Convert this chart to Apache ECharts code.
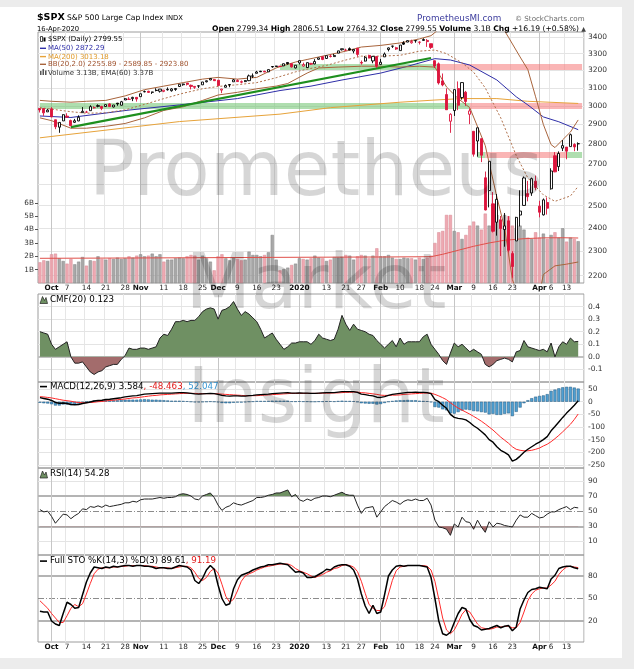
<!DOCTYPE html>
<html><head><meta charset="utf-8">
<script src="https://cdn.jsdelivr.net/npm/echarts@6/dist/echarts.min.js"></script>
<style>html,body{margin:0;padding:0;background:#ececec;}#chart{width:634px;height:669px;}</style>
</head><body><div id="chart"></div>
<script>
// ---------------- DATA ----------------
const monthDays = [
 ['2019-09',[26,27,30]],
 ['2019-10',[1,2,3,4,7,8,9,10,11,14,15,16,17,18,21,22,23,24,25,28,29,30,31]],
 ['2019-11',[1,4,5,6,7,8,11,12,13,14,15,18,19,20,21,22,25,26,27,29]],
 ['2019-12',[2,3,4,5,6,9,10,11,12,13,16,17,18,19,20,23,24,26,27,30,31]],
 ['2020-01',[2,3,6,7,8,9,10,13,14,15,16,17,21,22,23,24,27,28,29,30,31]],
 ['2020-02',[3,4,5,6,7,10,11,12,13,14,18,19,20,21,24,25,26,27,28]],
 ['2020-03',[2,3,4,5,6,9,10,11,12,13,16,17,18,19,20,23,24,25,26,27,30,31]],
 ['2020-04',[1,2,3,6,7,8,9,13,14,15,16]]
];
const tickDates = ['2019-10-01','2019-10-07','2019-10-14','2019-10-21','2019-10-28','2019-11-01','2019-11-11','2019-11-18','2019-11-25','2019-12-02','2019-12-09','2019-12-16','2019-12-23','2020-01-02','2020-01-13','2020-01-21','2020-01-27','2020-02-03','2020-02-10','2020-02-18','2020-02-24','2020-03-02','2020-03-09','2020-03-16','2020-03-23','2020-04-01','2020-04-06','2020-04-13'];
const tickTexts = ['Oct','7','14','21','28','Nov','11','18','25','Dec','9','16','23','2020','13','21','27','Feb','10','18','24','Mar','9','16','23','Apr','6','13'];
const monthTickTexts = ['Oct','Nov','Dec','2020','Feb','Mar','Apr'];

const prevClose0 = 2984.87;
const open = [
2985.73,2985.47,2967.07,2983.69,2924.78,2885.38,2918.56,2944.23,2920.40,2911.10,
2918.55,2963.07,2965.81,2973.61,2989.68,3000.77,2996.84,2996.48,3010.73,2994.01,
3014.78,3003.32,3032.12,3035.39,3039.74,3046.90,3050.72,3078.96,3080.80,3075.10,
3087.02,3081.25,3080.33,3089.28,3084.18,3090.75,3107.92,3117.91,3127.45,3114.66,
3108.49,3111.41,3117.44,3134.85,3145.49,3147.18,3143.85,3087.41,3103.50,3119.21,
3134.62,3141.86,3135.36,3135.75,3141.23,3166.65,3183.63,3195.40,3195.21,3192.32,
3223.33,3226.05,3225.45,3227.20,3247.23,3240.09,3215.18,3244.67,3226.36,3217.55,
3241.86,3238.59,3266.03,3281.81,3271.13,3285.35,3282.27,3302.97,3323.66,3321.03,
3330.02,3315.77,3333.10,3247.16,3255.35,3289.46,3256.45,3282.33,3235.66,3280.61,
3324.91,3344.92,3335.54,3318.28,3365.87,3370.50,3365.90,3378.08,3369.04,3380.39,
3380.45,3360.50,3257.61,3238.94,3139.90,3062.54,2916.90,2974.28,3096.46,3045.75,
3075.70,2954.20,2863.89,2813.48,2825.60,2630.86,2569.99,2508.59,2425.66,2436.50,
2393.48,2431.94,2290.71,2344.44,2457.77,2501.29,2555.87,2558.98,2614.69,2498.08,
2458.54,2514.92,2578.28,2738.65,2685.00,2776.99,2782.46,2784.81,2795.64,2799.34];
const high = [
2987.28,2987.31,2983.85,2992.53,2924.78,2911.13,2953.74,2959.75,2925.47,2929.32,
2948.46,2993.28,2972.84,3003.28,2997.54,3008.29,3000.00,3007.33,3014.57,3004.78,
3016.07,3027.39,3044.08,3047.87,3050.10,3046.90,3066.95,3085.20,3083.95,3078.34,
3097.77,3093.09,3088.33,3102.61,3098.06,3098.20,3120.46,3124.17,3127.64,3118.97,
3110.11,3112.87,3133.83,3142.69,3154.26,3150.30,3144.31,3094.97,3119.38,3119.45,
3150.60,3148.87,3142.12,3143.98,3176.28,3182.68,3197.71,3198.22,3198.48,3205.48,
3225.65,3227.78,3226.43,3240.08,3247.93,3240.92,3231.72,3258.14,3246.15,3246.84,
3244.91,3267.07,3275.58,3282.99,3288.13,3294.25,3298.66,3317.11,3329.88,3329.79,
3337.77,3326.88,3333.18,3258.85,3285.78,3293.47,3285.91,3282.33,3268.44,3306.92,
3337.58,3347.96,3341.42,3352.26,3375.63,3381.47,3385.09,3380.69,3375.01,3393.52,
3389.15,3360.76,3259.81,3246.99,3182.51,3097.07,2959.72,3090.96,3136.72,3130.97,
3083.04,2985.93,2863.89,2882.59,2825.60,2660.95,2711.33,2562.98,2553.93,2453.57,
2466.97,2453.01,2300.73,2449.71,2571.42,2637.01,2615.91,2631.80,2641.39,2522.75,
2533.22,2538.18,2676.85,2756.89,2760.75,2818.57,2782.46,2851.85,2801.88,2806.51];
const low = [
2963.71,2945.53,2967.07,2938.70,2874.93,2855.94,2918.56,2935.68,2892.66,2907.41,
2917.12,2963.07,2962.94,2973.61,2985.20,2991.79,2976.31,2995.35,2995.04,2991.21,
3000.42,3001.94,3032.12,3034.81,3025.96,3023.19,3050.72,3074.87,3072.15,3065.89,
3080.23,3073.58,3075.82,3084.73,3078.80,3083.26,3104.60,3112.06,3113.47,3091.41,
3094.55,3099.26,3117.44,3131.00,3143.41,3139.34,3110.78,3070.33,3102.53,3103.76,
3134.62,3135.46,3126.09,3133.21,3138.47,3156.51,3183.63,3191.03,3191.14,3192.32,
3216.03,3222.30,3220.51,3227.20,3234.37,3216.57,3212.03,3235.53,3222.34,3214.64,
3232.43,3236.67,3263.67,3260.86,3268.43,3277.19,3280.69,3302.82,3318.86,3316.61,
3320.04,3301.87,3281.53,3234.50,3253.22,3271.89,3242.80,3214.68,3235.66,3280.61,
3313.75,3334.39,3322.12,3317.77,3352.72,3369.72,3360.52,3366.15,3355.61,3378.83,
3341.02,3328.45,3214.65,3118.77,3108.99,2977.39,2855.84,2945.19,2976.63,3034.38,
2999.83,2901.54,2734.43,2734.00,2707.22,2478.86,2492.37,2380.94,2367.04,2280.52,
2319.78,2295.56,2191.86,2344.44,2407.53,2500.72,2520.02,2545.28,2571.15,2447.49,
2455.79,2459.96,2574.57,2657.67,2663.30,2762.36,2721.17,2784.81,2761.54,2764.32];
const close = [
2977.62,2961.79,2976.74,2940.25,2887.61,2910.63,2952.01,2938.79,2893.06,2919.40,
2938.13,2970.27,2966.15,2995.68,2989.69,2997.95,2986.20,3006.72,2995.99,3004.52,
3010.29,3022.55,3039.42,3036.89,3046.77,3037.56,3066.91,3078.27,3074.62,3076.78,
3085.18,3093.08,3087.01,3091.84,3094.04,3096.63,3120.46,3122.03,3120.18,3108.46,
3103.54,3110.29,3133.64,3140.52,3153.63,3140.98,3113.87,3093.20,3112.76,3117.43,
3145.91,3135.96,3132.52,3141.63,3168.57,3168.80,3191.45,3192.52,3191.14,3205.37,
3221.22,3224.01,3223.38,3239.91,3240.02,3221.29,3230.78,3257.85,3234.85,3246.28,
3237.18,3253.05,3274.70,3265.35,3288.13,3283.15,3289.29,3316.81,3329.62,3320.79,
3321.75,3325.54,3295.47,3243.63,3276.24,3273.40,3283.66,3225.52,3248.92,3297.59,
3334.69,3345.78,3327.71,3352.09,3357.75,3379.45,3373.94,3380.16,3370.29,3386.15,
3373.23,3337.75,3225.89,3128.21,3116.39,2978.76,2954.22,3090.23,3003.37,3130.12,
3023.94,2972.37,2746.56,2882.23,2741.38,2480.64,2711.02,2386.13,2529.19,2398.10,
2409.39,2304.92,2237.40,2447.33,2475.56,2630.07,2541.47,2626.65,2584.59,2470.50,
2526.90,2488.65,2663.68,2659.41,2749.98,2789.82,2761.63,2846.06,2783.36,2799.55];
const volumeB = [
1.55,1.70,1.65,2.15,2.20,1.85,1.65,1.45,1.80,1.40,
1.60,1.95,1.30,1.70,1.65,2.00,1.80,1.75,1.85,1.80,
1.90,1.80,1.85,2.00,1.90,2.05,2.15,2.00,2.05,2.20,
2.00,2.15,1.60,1.75,1.75,1.85,1.90,1.85,2.00,2.10,
2.05,1.75,2.05,1.85,1.60,0.95,2.00,2.15,1.85,1.70,
1.90,1.80,1.70,1.75,2.35,2.10,2.10,2.00,2.10,2.30,
3.60,1.75,0.95,1.05,1.15,1.35,1.45,1.85,1.80,1.75,
1.85,2.05,1.90,1.85,1.65,1.75,1.95,1.90,1.95,2.10,
2.05,1.75,2.00,2.10,2.05,1.85,2.05,2.60,2.00,2.00,
2.10,1.90,1.80,1.80,1.90,1.85,1.85,1.75,1.90,1.80,
1.90,2.05,3.00,3.80,3.90,5.10,5.10,3.90,3.80,3.30,
3.60,4.30,4.60,4.30,4.00,5.20,4.30,4.50,5.10,4.50,
5.10,5.00,4.30,4.10,4.30,4.00,3.40,3.30,3.80,3.40,
3.70,3.30,3.60,3.80,3.40,4.10,3.10,3.40,3.30,3.13];
const cmf = [
0.20,0.19,0.18,0.10,0.06,0.08,0.10,0.12,0.00,-0.05,
-0.05,-0.04,-0.08,-0.12,-0.14,-0.12,-0.11,-0.08,-0.07,-0.06,
-0.06,-0.02,0.01,0.07,0.06,0.06,0.07,0.07,0.06,0.07,
0.08,0.15,0.18,0.17,0.22,0.28,0.28,0.29,0.28,0.29,
0.29,0.32,0.36,0.38,0.39,0.38,0.30,0.37,0.38,0.40,
0.44,0.38,0.33,0.36,0.34,0.31,0.28,0.22,0.15,0.17,
0.19,0.14,0.10,0.06,0.08,0.11,0.11,0.12,0.12,0.12,
0.10,0.13,0.18,0.15,0.14,0.13,0.14,0.22,0.33,0.26,
0.21,0.26,0.22,0.21,0.20,0.18,0.17,0.13,0.10,0.07,
0.10,0.13,0.08,0.15,0.10,0.12,0.12,0.12,0.12,0.16,
0.18,0.10,0.06,0.02,-0.03,-0.06,0.03,0.11,0.08,0.10,
0.07,0.04,0.06,0.04,0.02,-0.06,-0.08,-0.06,-0.03,-0.02,
-0.01,-0.02,-0.04,0.04,0.05,0.13,0.08,0.07,0.06,0.05,
0.06,0.04,0.11,0.00,0.08,0.12,0.10,0.15,0.12,0.123];
const macdLine = [
16,13,10,5,-3,-6,-5,-7,-11,-12,
-11,-7,-4,-1,3,5,6,9,10,12,
14,16,19,21,23,24,27,30,31,32,
33,34,34,34,34,35,36,36,35,33,
31,30,31,32,33,32,29,25,23,22,
23,23,22,22,24,25,27,28,29,30,
32,33,34,35,36,34,34,35,34,34,
33,33,34,35,36,36,36,38,40,40,
40,40,37,30,28,25,23,18,17,20,
25,29,31,33,35,37,37,38,37,37,
36,32,8,0,-14,-26,-50,-62,-66,-68,
-72,-82,-95,-105,-118,-131,-150,-160,-178,-192,
-200,-210,-235,-228,-215,-200,-188,-178,-168,-160,
-150,-138,-115,-98,-80,-62,-45,-30,-14,3.584];
const macdSignal = [
20,19,17,15,12,9,6,4,2,-1,
-3,-4,-4,-3,-2,0,1,3,5,6,
8,9,11,13,15,16,18,20,22,24,
25,27,28,29,30,31,32,33,33,33,
33,32,32,32,32,32,31,30,29,28,
27,26,25,24,24,24,24,25,26,27,
28,29,30,31,32,33,33,33,33,33,
33,33,33,34,34,34,35,35,36,37,
37,38,38,36,35,33,31,29,26,25,
25,26,26,27,29,30,31,32,33,34,
34,34,29,23,16,8,-4,-15,-25,-33,
-41,-49,-58,-67,-77,-88,-100,-112,-126,-140,
-152,-164,-178,-188,-192,-194,-194,-192,-188,-183,
-175,-168,-158,-146,-133,-119,-104,-89,-70,-48.463];
const macdHist = [
-4,-6,-7,-10,-15,-15,-11,-11,-13,-11,
-8,-3,0,2,5,5,5,6,5,6,
6,7,8,8,8,8,9,10,9,8,
8,7,6,5,4,4,4,3,2,0,
-2,-2,-1,0,1,0,-2,-5,-6,-6,
-4,-3,-3,-2,0,1,3,3,3,3,
4,4,4,4,4,1,1,2,1,1,
0,0,1,1,2,2,1,3,4,3,
3,2,-1,-6,-7,-8,-8,-11,-9,-5,
0,3,5,6,6,7,6,6,4,3,
2,-2,-21,-23,-30,-34,-46,-47,-41,-35,
-31,-33,-37,-38,-41,-43,-50,-48,-52,-52,
-48,-46,-57,-40,-23,-6,6,14,20,23,
25,30,43,48,53,57,59,59,56,52.047];
const rsi = [
52,49,50,43,34,40,46,45,40,44,
47,53,52,56,55,57,55,58,56,57,
58,59,61,61,63,62,65,66,66,66,
67,68,67,68,68,69,72,73,72,70,
66,65,70,72,74,68,58,51,55,57,
61,59,58,60,62,64,68,68,69,71,
72,74,74,76,78,69,72,65,63,66,
64,67,68,70,70,69,71,73,75,72,
71,71,58,47,54,55,56,42,49,56,
60,64,62,59,63,65,64,66,64,64,
67,58,38,29,28,26,18,33,29,42,
36,35,26,38,29,22,36,29,34,33,
31,30,29,38,45,42,42,47,44,41,
42,46,49,49,52,54,56,52,55,54.28];
const stoK = [
33,32,32,20,16,14,30,45,42,37,
38,55,72,84,92,91,90,92,91,93,
92,93,94,94,93,94,94,93,93,92,
90,91,91,90,90,92,94,93,92,88,
74,70,77,88,94,89,68,50,41,43,
63,75,81,83,85,88,90,92,93,95,
95,96,97,96,95,90,85,86,84,78,
78,79,82,85,89,88,92,94,95,95,
93,88,76,56,40,30,41,30,32,55,
80,88,93,94,93,94,94,94,94,93,
92,78,50,20,3,1,5,18,30,38,
36,22,14,12,8,9,10,12,14,11,
13,14,7,12,36,48,58,62,63,65,
64,63,76,81,90,92,93,93,91,89.61];
const stoD = [
47,42,37,30,24,18,18,27,37,42,
39,43,56,70,83,89,91,91,91,92,
92,93,93,94,94,94,94,94,93,93,
92,91,91,91,90,91,92,93,93,91,
85,77,74,78,86,90,84,69,53,45,
49,60,73,80,83,85,88,90,92,93,
94,95,96,96,96,94,90,87,85,83,
80,78,80,82,85,87,90,91,94,95,
94,92,86,73,57,42,37,34,34,39,
56,74,87,92,93,94,94,94,94,94,
93,88,73,49,24,8,3,8,18,29,
35,32,24,16,11,10,9,10,12,12,
13,13,11,11,18,32,47,56,61,63,
64,64,68,73,82,88,92,93,92,91.19];

// smooth overlay lines, read at sample days: [dayIndex, value]
const ma50Pts = [[0,2945],[8,2937],[23,2977],[36,3005],[51,3040],[62,3085],[70,3110],[78,3145],[88,3185],[95,3225],[102,3270],[106,3262],[111,3232],[118,3145],[123,3050],[126,3005],[130,2940],[134,2914],[139,2872.29]];
const ma200Pts = [[0,2830],[36,2915],[62,2955],[75,2990],[93,3020],[102,3032],[109,3040],[118,3040],[126,3025],[139,3013.18]];
const bbUpPts = [[0,3030],[3,3025],[8,3020],[12,3025],[17,3030],[22,3055],[27,3090],[32,3110],[37,3130],[42,3150],[46,3160],[51,3150],[56,3160],[61,3215],[66,3250],[69,3265],[74,3290],[79,3315],[83,3340],[88,3350],[93,3365],[98,3390],[101,3410],[103,3450],[106,3520],[112,3560],[117,3520],[120,3440],[121,3400],[124,3280],[126,3205],[128,3050],[130,2900],[132,2795],[133,2780],[135,2820],[137,2860],[139,2923.80]];
const bbMidPts = [[0,2990],[3,2982],[8,2968],[12,2960],[17,2962],[22,2978],[27,3008],[32,3040],[37,3070],[42,3095],[46,3108],[51,3118],[56,3130],[61,3158],[66,3192],[69,3208],[74,3230],[79,3262],[83,3285],[88,3285],[93,3290],[98,3315],[102,3322],[105,3300],[109,3245],[112,3190],[115,3100],[119,2935],[123,2740],[126,2630],[130,2550],[133,2520],[137,2545],[139,2589.85]];
const bbLowPts = [[0,2935],[3,2920],[8,2880],[12,2880],[17,2890],[22,2905],[27,2935],[32,2975],[37,2995],[42,3030],[46,3060],[51,3075],[56,3095],[61,3110],[64,3125],[69,3185],[72,3215],[77,3220],[83,3225],[88,3225],[93,3220],[98,3225],[102,3220],[105,3105],[108,3040],[111,2990],[115,2790],[118,2540],[120,2400],[122,2185],[124,2100],[127,2080],[129,2130],[130,2205],[133,2240],[136,2247],[139,2255.89]];
const volEmaPts = [[0,1.85],[30,1.88],[60,1.92],[90,1.95],[101,1.97],[104,2.15],[108,2.45],[112,2.75],[116,3.0],[120,3.2],[125,3.32],[130,3.38],[135,3.39],[139,3.37]];

// drawn support/resistance bands
const bandLevels = [3000,3000,3220,3220,2745,2745,2745];
const bandFrom   = [0,111,62,103,113,115,136];
const bandTo     = [111,140,103,140,115,136,140];
const bandKind   = ['g','r','g','r','g','r','g'];
// trend line: [dayIndex, price]
const trendPts = [[8,2886],[101,3274]];

// axis tick values
const priceTicks = [3400,3300,3200,3100,3000,2900,2800,2700,2600,2500,2400,2300,2200];
const volTicks = [1,2,3,4,5,6];
const cmfTicks = [0.4,0.3,0.2,0.1,0,-0.1];
const cmfTickTexts = ['0.4','0.3','0.2','0.1','0.0','-0.1'];
const macdTicks = [50,0,-50,-100,-150,-200,-250];
const rsiTicks = [90,70,50,30,10];
const stoTicks = [80,50,20];

// ---------------- BUILD ----------------
const FONT = '"DejaVu Sans", Verdana, sans-serif';
const dates = [];
monthDays.forEach(([ym, days]) => days.forEach(d => dates.push(ym + '-' + String(d).padStart(2,'0'))));
const cats = dates.concat(['']);
const tickSet = new Set(tickDates);
const monthSet = new Set(tickDates.filter((d,k) => monthTickTexts.includes(tickTexts[k])));
const monthIdx = tickDates.filter(d => monthSet.has(d)).map(d => dates.indexOf(d));

const RED = '#dc143c', BLACK = '#000000';
const POS = '#6f9063', NEG = '#a36c6c';

const panels = [{top:32,height:251},{top:294,height:88},{top:382,height:86},{top:468,height:87},{top:555,height:87}];
const grids = panels.map(p => ({left:38, width:546, top:p.top, height:p.height, show:true, borderColor:'#9c9c9c', borderWidth:1, outerBoundsMode:'none'}));

const xAxes = panels.map((p,i) => ({
  type:'category', gridIndex:i, data:cats, boundaryGap:true,
  axisLine:{show:false}, axisTick:{show:false},
  axisLabel:{show: i===0 || i===4, interval:(idx,val)=>tickSet.has(val), margin:2, hideOverlap:false,
    fontSize:7.3, fontFamily:FONT, color:'#222',
    formatter:(val)=>{const k=tickDates.indexOf(val); if(k<0) return ''; const t=tickTexts[k]; return monthSet.has(val)?'{b|'+t+'}':t;},
    rich:{b:{fontWeight:'bold', fontSize:7.3, fontFamily:FONT, color:'#111'}}},
  splitLine:{show:true, interval:(idx,val)=>tickSet.has(val) && !monthSet.has(val), lineStyle:{color:'#e6e6e6', width:1}}
}));
const hiddenY = (gi, min, max) => ({type:'value', gridIndex:gi, min, max, axisLine:{show:false}, axisTick:{show:false}, axisLabel:{show:false}, splitLine:{show:false}});
const yAxes = [
  {type:'log', logBase:10, gridIndex:0, min:2171, max:3433, position:'right', axisLine:{show:false}, axisTick:{show:false}, axisLabel:{show:false}, splitLine:{show:false}, minorTick:{show:false}, minorSplitLine:{show:false}},
  {type:'value', gridIndex:0, min:0, max:18.8, interval:1, position:'left', axisLine:{show:false},
   axisTick:{show:true, length:3, customValues:volTicks, lineStyle:{color:'#555'}},
   axisLabel:{customValues:volTicks, margin:4, fontSize:7.3, fontFamily:FONT, color:'#333', formatter:v=>(v>=1&&v<=6)?v+'B':''},
   splitLine:{show:false}},
  hiddenY(1,-0.2,0.5),
  hiddenY(2,-262,78),
  hiddenY(3,-8,107),
  hiddenY(4,-8,108)
];

const S = [];
const add = s => { S.push(s); return S.length - 1; };
const LIGHT = {color:'#e4e4e4', width:1, type:'solid'};
const THICK = {color:'#b4b4b4', width:2, type:'solid'};
const DASHDOT = {color:'#8c8c8c', width:1, type:[6,2,1,2]};
function gridHost(xi, yi, ticks, texts, styleFor){
  const data = ticks.map((v,k)=>({yAxis:v, lineStyle:styleFor?styleFor(v):LIGHT, label:{show:true, formatter:texts[k]}}));
  monthIdx.forEach(i => data.push({xAxis:i, lineStyle:{color:'#c6c6c6', width:1, type:'solid'}, label:{show:false}}));
  return {type:'line', xAxisIndex:xi, yAxisIndex:yi, data:[], silent:true, clip:false, z:0,
    markLine:{silent:true, symbol:['none','none'], animation:false, z:0, precision:2,
      label:{position:'end', distance:4, color:'#333', fontSize:7.5, fontFamily:FONT},
      emphasis:{disabled:true}, data}};
}
const lineS = (xi, yi, data, color, width, z, extra) => Object.assign({type:'line', xAxisIndex:xi, yAxisIndex:yi, data, showSymbol:false, symbol:'none', silent:true, z, lineStyle:{color, width}}, extra||{});

// --- price panel ---
add(gridHost(0,0,priceTicks,priceTicks.map(String)));
add({type:'bar', xAxisIndex:0, yAxisIndex:1, barWidth:'82%', silent:true, z:1,
  data: volumeB.map((v,i)=>{const prev=i?close[i-1]:prevClose0; const dn=close[i]<prev;
    return {value:v, itemStyle:{color: dn?'rgba(236,160,170,0.9)':'rgba(158,158,158,0.9)', borderColor: dn?'#d88a95':'#858585', borderWidth:0.5}};})});
add({type:'line', xAxisIndex:0, yAxisIndex:0, data:[], silent:true, clip:false, z:2,
  markLine:{silent:true, symbol:['none','none'], animation:false, z:2, label:{show:false}, emphasis:{disabled:true},
    data: bandLevels.map((v,k)=>[{coord:[bandFrom[k], v], lineStyle:{width:6, type:'solid', color: bandKind[k]==='g'?'rgba(110,195,110,0.55)':'rgba(245,120,120,0.55)'}}, {coord:[bandTo[k], v]}])}});
add(lineS(0,0,ma200Pts,'#e7a33a',1,3));
add(lineS(0,0,ma50Pts,'#2e2ea8',1,3));
add(lineS(0,0,bbUpPts,'#a8643c',1,3));
add(Object.assign(lineS(0,0,bbMidPts,'#b0704a',1,3),{lineStyle:{color:'#b0704a', width:1, type:[2,2]}}));
add(lineS(0,0,bbLowPts,'#a8643c',1,3));
add(lineS(0,1,volEmaPts,'#e0504a',1,3));
add({type:'line', xAxisIndex:0, yAxisIndex:0, data:[], silent:true, z:4,
  markLine:{silent:true, symbol:['none','none'], animation:false, z:4, label:{show:false}, emphasis:{disabled:true},
    data:[[{coord:trendPts[0], lineStyle:{color:'#1e8f1e', width:2.2, type:'solid'}}, {coord:trendPts[1]}]]}});
add({type:'candlestick', xAxisIndex:0, yAxisIndex:0, barWidth:2.6, silent:true, z:5,
  data: close.map((c,i)=>{const o=open[i]; const prev=i?close[i-1]:prevClose0; const col=c<prev?RED:BLACK; const fill=c>=o?'#ffffff':col;
    return {value:[o,c,low[i],high[i]], itemStyle:{color:fill, color0:fill, borderColor:col, borderColor0:col, borderWidth:0.9}};})});

// --- CMF ---
add(gridHost(1,2,cmfTicks,cmfTickTexts,v=>v===0?{color:'#c0c0c0',width:2,type:'solid'}:LIGHT));
const iCmfArea = add(lineS(1,2,cmf,POS,0,2,{areaStyle:{origin:0, opacity:1}}));
add(lineS(1,2,cmf,'#222',1,3));

// --- MACD ---
add(gridHost(2,3,macdTicks,macdTicks.map(String)));
add({type:'bar', xAxisIndex:2, yAxisIndex:3, data:macdHist, barWidth:'80%', silent:true, z:2, itemStyle:{color:'#4f9fd1', borderColor:'#245a80', borderWidth:0.5}});
add(lineS(2,3,macdSignal,'#ff2a2a',1,3));
add(lineS(2,3,macdLine,'#000',1.4,4));

// --- RSI ---
add(gridHost(3,4,rsiTicks,rsiTicks.map(String),v=>(v===70||v===30)?THICK:(v===50?DASHDOT:LIGHT)));
const iRsiHi = add(lineS(3,4,rsi,POS,0,2,{areaStyle:{origin:70, opacity:1}}));
const iRsiLo = add(lineS(3,4,rsi,NEG,0,2,{areaStyle:{origin:30, opacity:1}}));
add(lineS(3,4,rsi,'#222',1,3));

// --- Full STO ---
add(gridHost(4,5,stoTicks,stoTicks.map(String),v=>v===50?DASHDOT:THICK));
add(lineS(4,5,stoD,'#ff2a2a',1,3));
add(lineS(4,5,stoK,'#000',1.5,4));

// ---------------- TEXT ----------------
const T = (x,y,text,size,extra) => ({type:'text', x, y, z:50, silent:true, style:Object.assign({text, fontSize:size, fontFamily:FONT, fill:'#000', verticalAlign:'middle', textVerticalAlign:'middle', align:'left', textAlign:'left'}, extra||{})});
const R = (x,y,w,h,fill) => ({type:'rect', z:50, silent:true, shape:{x,y,width:w,height:h}, style:{fill}});
const rich = (size) => ({
  b:{fontWeight:'bold', fontSize:size, fontFamily:FONT, fill:'#000'},
  v:{fontSize:size, fontFamily:FONT, fill:'#000'},
  k:{fontSize:size, fontFamily:FONT, fill:'#000'},
  r:{fontSize:size, fontFamily:FONT, fill:'#e21b1b'},
  u:{fontSize:size, fontFamily:FONT, fill:'#3a98d4'},
  t:{fontSize:size*0.8, fontFamily:FONT, fill:'#444'}
});
const mark = (x,y) => ({type:'polygon', z:50, silent:true, shape:{points:[[x,y+4],[x+2.5,y-3],[x+4.5,y+1],[x+6,y-2],[x+7.5,y+4]]}, style:{fill:POS, stroke:'#222', lineWidth:0.7}});

const graphics = [
  {type:'rect', z:-10, silent:true, shape:{x:0,y:7,width:622,height:651}, style:{fill:'#ffffff'}},
  T(37,17.5,'$SPX',9.5,{fontWeight:'bold'}),
  T(67,18.4,'S&P 500 Large Cap Index',7.6),
  T(166,18.6,'INDX',6.8),
  T(417,18.8,'PrometheusMI.com',8.8,{fill:'#3d3d9e'}),
  T(515,18.8,'\u00a9 StockCharts.com',7.1,{fill:'#6a6a6a'}),
  T(37,29.3,'16-Apr-2020',6.8),
  T(586,29.3,'{b|Open} {v|2799.34} {b|High} {v|2806.51} {b|Low} {v|2764.32} {b|Close} {v|2799.55} {b|Volume} {v|3.1B} {b|Chg} {v|+16.19 (+0.58%)} {t|\u25B2}',7.6,{align:'right', textAlign:'right', rich:rich(7.6)}),
  {type:'rect', z:50, silent:true, shape:{x:40.5,y:36.5,width:2,height:5}, style:{fill:'#fff', stroke:'#000', lineWidth:0.7}},
  R(43.5,37.5,2,4,'#000'),
  T(48,39.3,'$SPX (Daily) 2799.55',7),
  R(40,47.6,6,1.4,'#2e2ea8'), T(48,48.3,'MA(50) 2872.29',7,{fill:'#2e2ea8'}),
  R(40,55.9,6,1.4,'#e7a33a'), T(48,56.7,'MA(200) 3013.18',7,{fill:'#e09a2a'}),
  R(40,63.6,6,1.4,'#a8643c'), T(48,64.3,'BB(20,2.0) 2255.89 - 2589.85 - 2923.80',7,{fill:'#a0522d'}),
  R(40,71,1.5,4,'#555'), R(42.5,69,1.5,6,'#555'), R(45,70.5,1.5,4.5,'#555'),
  T(48,72.7,'Volume 3.13B, EMA(60) 3.37B',7,{fill:'#333'}),
  mark(40,299.5), T(50,299.5,'CMF(20) 0.123',8.7),
  R(40,385.8,7,1.6,'#000'), T(50,386.5,'{k|MACD(12,26,9) 3.584}{r|, -48.463}{u|, 52.047}',8.7,{rich:rich(8.7)}),
  mark(40,474), T(50,474,'RSI(14) 54.28',8.7),
  R(40,560.3,7,1.6,'#000'), T(50,561,'{k|Full STO %K(14,3) %D(3) 89.61}{r|, 91.19}',8.7,{rich:rich(8.7)}),
  {type:'text', x:316, y:175, z:100, silent:true, style:{text:'Prometheus', fontSize:76, fontFamily:FONT, fill:'rgba(0,0,0,0.16)', align:'center', textAlign:'center', verticalAlign:'middle', textVerticalAlign:'middle'}},
  {type:'text', x:316, y:288, z:100, silent:true, style:{text:'Market', fontSize:76, fontFamily:FONT, fill:'rgba(0,0,0,0.16)', align:'center', textAlign:'center', verticalAlign:'middle', textVerticalAlign:'middle'}},
  {type:'text', x:316, y:402, z:100, silent:true, style:{text:'Insight', fontSize:76, fontFamily:FONT, fill:'rgba(0,0,0,0.16)', align:'center', textAlign:'center', verticalAlign:'middle', textVerticalAlign:'middle'}}
];

const chart = echarts.init(document.getElementById('chart'), null, {renderer:'canvas'});
chart.setOption({
  backgroundColor:'#ececec',
  animation:false,
  textStyle:{fontFamily:FONT},
  grid:grids, xAxis:xAxes, yAxis:yAxes,
  visualMap:[
    {type:'piecewise', show:false, seriesIndex:iCmfArea, dimension:1, pieces:[{gte:-1, lt:0, color:NEG},{gte:0, lte:1, color:POS}]},
    {type:'piecewise', show:false, seriesIndex:iRsiHi, dimension:1, pieces:[{gt:70, lte:150, color:POS},{gte:-50, lte:70, color:'rgba(0,0,0,0)'}]},
    {type:'piecewise', show:false, seriesIndex:iRsiLo, dimension:1, pieces:[{gte:-50, lt:30, color:NEG},{gte:30, lte:150, color:'rgba(0,0,0,0)'}]}
  ],
  series:S,
  graphic:graphics
});
</script></body></html>
